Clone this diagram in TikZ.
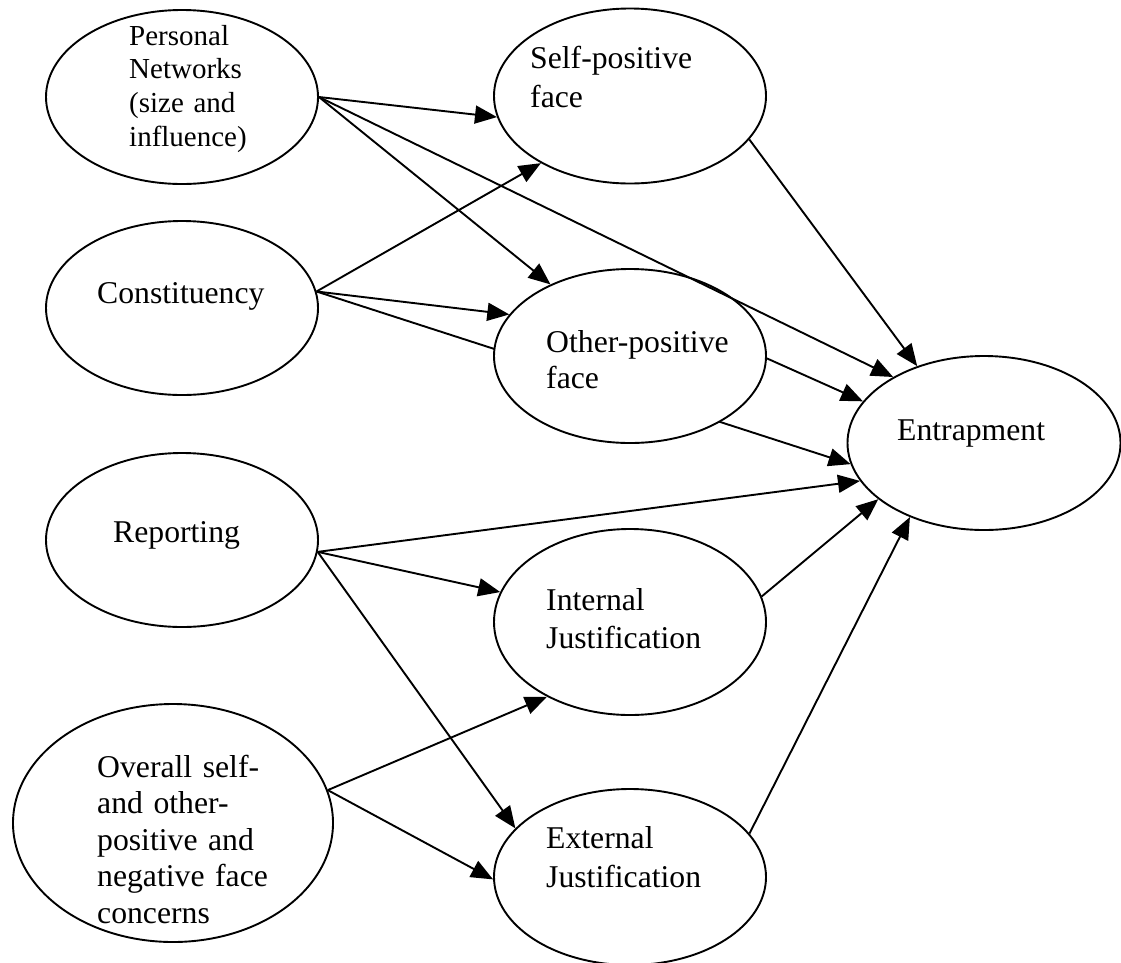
\documentclass[tikz,border=0pt]{standalone}
\usepackage{fontspec}
\setmainfont{Liberation Serif}
\usetikzlibrary{shapes.geometric,arrows.meta}
\pgfdeclarelayer{behind}
\pgfsetlayers{behind,main}

\tikzstyle{oval} = [ellipse, draw, fill=white, line width=1.9pt, inner sep=0pt, minimum width=272pt, minimum height=174pt]
\tikzstyle{word} = [anchor=base west, inner sep=0pt, text width=250pt, align=left, font=\fontsize{31.7}{37.5}\selectfont]
\tikzstyle{conn} = [line width=1.9pt, -{Triangle[length=22pt,width=18pt]}]

\begin{document}
\begin{tikzpicture}[x=1pt, y=-1pt]
        \useasboundingbox (0,0) rectangle (1121,962);
        \node[oval] (pn) at (182,97) {};
        \node[oval] (con) at (182,308) {};
        \node[oval] (rep) at (182,540) {};
        \node[oval, minimum width=320pt, minimum height=238pt] (ov) at (173,823) {};
        \node[oval, minimum height=175pt] (sp) at (630,96) {};
        \node[oval] (op) at (630,356) {};
        \node[oval, minimum height=186pt] (int) at (630,622) {};
        \node[oval, minimum height=176pt] (ext) at (630,877) {};
        \node[oval, minimum width=273pt] (ent) at (984,443) {};

        \node[word, font=\fontsize{29}{33.7}\selectfont] (pn-t) at (129,45) {Personal\\Networks\\(size and\\influence)};
        \node[word] (con-t) at (97,303) {Constituency};
        \node[word] (rep-t) at (113,542) {Reporting};
        \node[word, font=\fontsize{31.7}{36.5}\selectfont] (ov-t) at (97,777) {Overall self-\\and other-\\positive and\\negative face\\concerns};
        \node[word, font=\fontsize{31.7}{39}\selectfont] (sp-t) at (530,68) {Self-positive\\face};
        \node[word, font=\fontsize{31.7}{36}\selectfont] (op-t) at (546,352) {Other-positive\\face};
        \node[word, font=\fontsize{31.7}{38}\selectfont] (int-t) at (546,610) {Internal\\Justification};
        \node[word, font=\fontsize{31.7}{39}\selectfont] (ext-t) at (546,848) {External\\Justification};
        \node[word] (ent-t) at (897,440) {Entrapment};

        \begin{pgfonlayer}{behind}
        \draw[conn] (con.7) -- (ent.189);
        \end{pgfonlayer}

        \draw[conn] (pn.east) -- (sp.189);
        \draw[conn] (pn.east) -- (op.138);
        \draw[conn] (pn.east) -- (ent.144);
        \draw[conn] (con.7) -- (sp.217);
        \draw[conn] (con.7) -- (op.161);
        \draw[conn] (rep.-5) -- (ent.197);
        \draw[conn] (rep.-5) -- (int.167);
        \draw[conn] (rep.-5) -- (ext.157);
        \draw[conn] (ov.12) -- (int.222);
        \draw[conn] (ov.12) -- (ext.181);
        \draw[conn] (sp.-20) -- (ent.131);
        \draw[conn] (op.-1) -- (ent.161);
        \draw[conn] (int.11) -- (ent.208);
        \draw[conn] (ext.20) -- (ent.225);
\end{tikzpicture}
\end{document}
